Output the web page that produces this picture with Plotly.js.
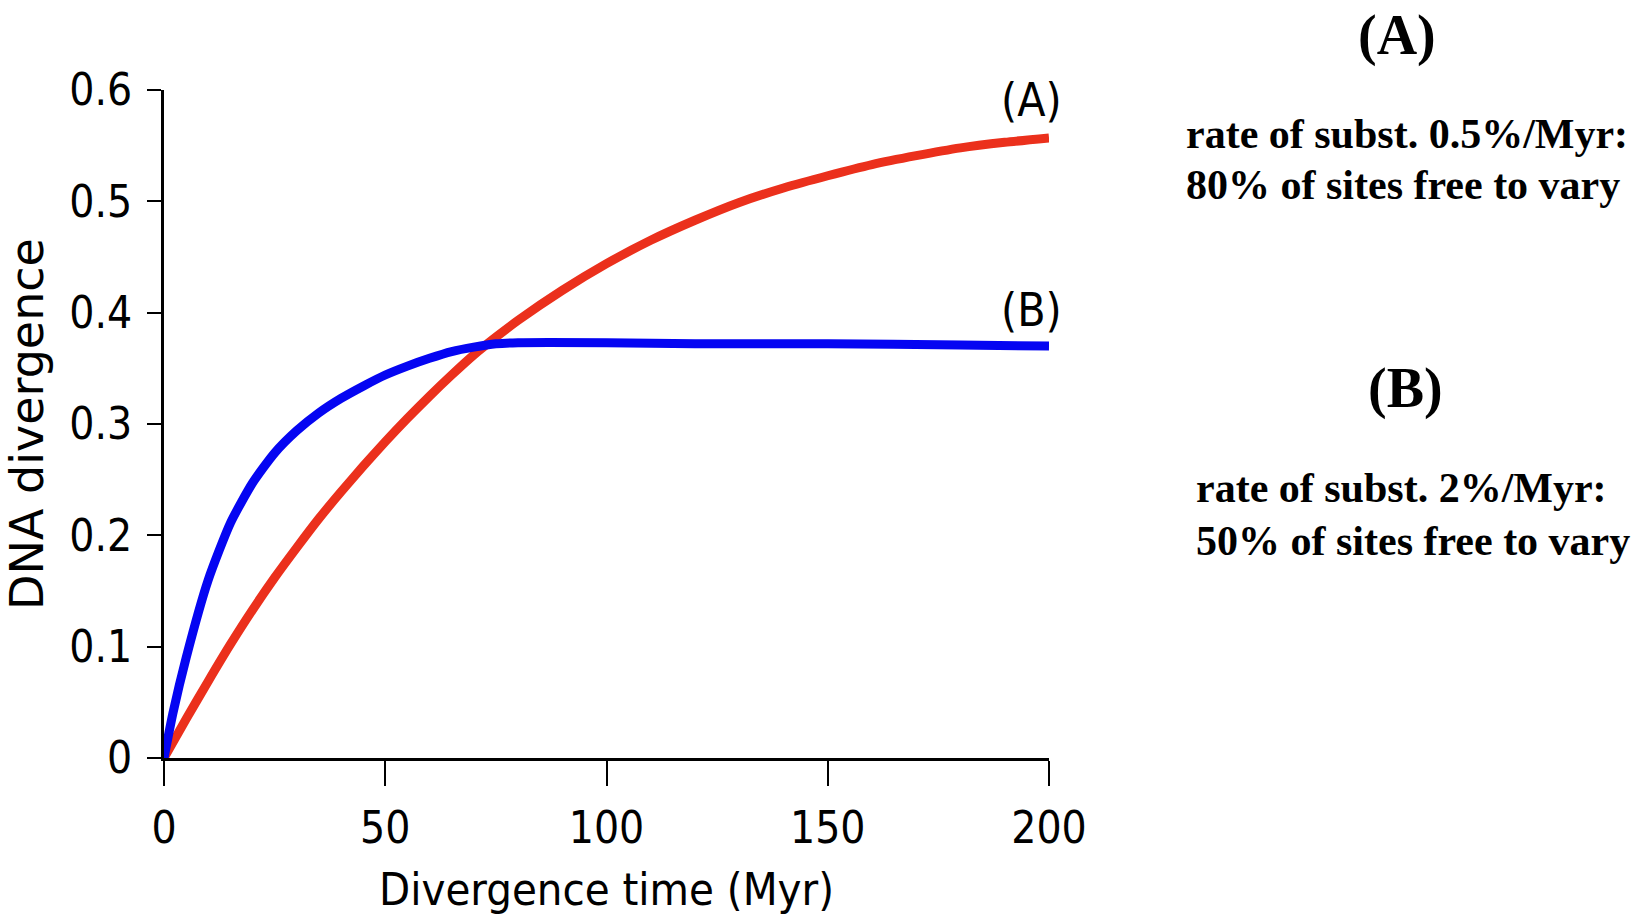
<!DOCTYPE html>
<html>
<head>
<meta charset="utf-8">
<script src="https://cdn.plot.ly/plotly-3.0.1.min.js"></script>
<style>
  html, body { margin: 0; padding: 0; background: #ffffff; }
  #chart { width: 1649px; height: 923px; }
</style>
</head>
<body>
<div id="chart"></div>
<script>
// ---- Data ----
const timeA = [0, 5, 10, 15, 20, 25, 30, 35, 40, 45, 50, 55, 60, 65, 70, 75, 80, 90, 100, 110, 120, 130, 140, 150, 160, 170, 180, 190, 200];
const divergenceA = [0, 0.035, 0.069, 0.102, 0.133, 0.162, 0.189, 0.215, 0.239, 0.262, 0.284, 0.305, 0.325, 0.344, 0.362, 0.378, 0.393, 0.420, 0.444, 0.465, 0.483, 0.499, 0.512, 0.523, 0.533, 0.541, 0.548, 0.553, 0.557];

const timeB = [0, 2, 5, 10, 15, 20, 25, 30, 35, 40, 45, 50, 55, 60, 65, 70, 75, 80, 100, 120, 150, 180, 200];
const divergenceB = [0, 0.040, 0.090, 0.160, 0.211, 0.247, 0.274, 0.294, 0.310, 0.323, 0.334, 0.344, 0.352, 0.359, 0.365, 0.369, 0.372, 0.373, 0.373, 0.372, 0.372, 0.371, 0.370];

const xTicks = [0, 50, 100, 150, 200];
const xTickLabels = ["0", "50", "100", "150", "200"];
const yTicks = [0, 0.1, 0.2, 0.3, 0.4, 0.5, 0.6];
const yTickLabels = ["0", "0.1", "0.2", "0.3", "0.4", "0.5", "0.6"];

const curveLabels = ["(A)", "(B)"];
const headerA = "(A)";
const linesA = ["rate of subst. 0.5%/Myr:", "80% of sites free to vary"];
const headerB = "(B)";
const linesB = ["rate of subst. 2%/Myr:", "50% of sites free to vary"];

// ---- Styling ----
const sansNarrow = "'DejaVu Sans Condensed', 'Liberation Sans Narrow', sans-serif";
const serif = "'Liberation Serif', 'Times New Roman', serif";
const red = "rgb(235,48,28)";
const blue = "rgb(5,5,242)";

const traces = [
  {
    x: timeA, y: divergenceA, type: "scatter", mode: "lines", name: curveLabels[0],
    line: { color: red, width: 9, shape: "spline", smoothing: 0.6 },
    hoverinfo: "x+y"
  },
  {
    x: timeB, y: divergenceB, type: "scatter", mode: "lines", name: curveLabels[1],
    line: { color: blue, width: 9, shape: "spline", smoothing: 0.6 },
    hoverinfo: "x+y"
  }
];

const annotations = [
  { xref: "x", yref: "y", x: 196, y: 0.591, text: curveLabels[0], showarrow: false,
    font: { family: sansNarrow, size: 46, color: "#000" } },
  { xref: "x", yref: "y", x: 196, y: 0.4025, text: curveLabels[1], showarrow: false,
    font: { family: sansNarrow, size: 46, color: "#000" } },

  { xref: "paper", yref: "paper", x: 1.3932, y: 1.0823, text: "<b>" + headerA + "</b>", showarrow: false,
    xanchor: "center", yanchor: "middle", font: { family: serif, size: 56, color: "#000" } },
  { xref: "paper", yref: "paper", x: 1.1525, y: 0.9341, text: "<b>" + linesA[0] + "</b>", showarrow: false,
    xanchor: "left", yanchor: "middle", font: { family: serif, size: 42, color: "#000" } },
  { xref: "paper", yref: "paper", x: 1.1525, y: 0.8578, text: "<b>" + linesA[1] + "</b>", showarrow: false,
    xanchor: "left", yanchor: "middle", font: { family: serif, size: 42, color: "#000" } },

  { xref: "paper", yref: "paper", x: 1.4023, y: 0.5524, text: "<b>" + headerB + "</b>", showarrow: false,
    xanchor: "center", yanchor: "middle", font: { family: serif, size: 56, color: "#000" } },
  { xref: "paper", yref: "paper", x: 1.1638, y: 0.4042, text: "<b>" + linesB[0] + "</b>", showarrow: false,
    xanchor: "left", yanchor: "middle", font: { family: serif, size: 42, color: "#000" } },
  { xref: "paper", yref: "paper", x: 1.1638, y: 0.3249, text: "<b>" + linesB[1] + "</b>", showarrow: false,
    xanchor: "left", yanchor: "middle", font: { family: serif, size: 42, color: "#000" } }
];

const layout = {
  width: 1649,
  height: 923,
  paper_bgcolor: "#ffffff",
  plot_bgcolor: "#ffffff",
  showlegend: false,
  margin: { l: 164, r: 600, t: 90, b: 165, pad: 0 },
  xaxis: {
    range: [0, 200],
    tickvals: xTicks,
    ticktext: xTickLabels,
    ticks: "outside",
    ticklen: 25,
    tickwidth: 2,
    tickcolor: "#000",
    showline: true,
    linecolor: "#000",
    linewidth: 3,
    showgrid: false,
    zeroline: false,
    tickfont: { family: sansNarrow, size: 44, color: "#000" },
    ticklabelstandoff: 4,
    title: { text: "Divergence time (Myr)", font: { family: sansNarrow, size: 45, color: "#000" }, standoff: 22 },
    fixedrange: true
  },
  yaxis: {
    range: [0, 0.6],
    tickvals: yTicks,
    ticktext: yTickLabels,
    ticks: "outside",
    ticklen: 14,
    tickwidth: 2,
    tickcolor: "#000",
    showline: true,
    linecolor: "#000",
    linewidth: 3,
    showgrid: false,
    zeroline: false,
    tickfont: { family: sansNarrow, size: 44, color: "#000" },
    ticklabelstandoff: 6,
    title: { text: "DNA divergence", font: { family: "'DejaVu Sans', sans-serif", size: 46, color: "#000" }, standoff: 16 },
    fixedrange: true
  },
  annotations: annotations
};

Plotly.newPlot("chart", traces, layout, { displayModeBar: false, staticPlot: false });
</script>
</body>
</html>
